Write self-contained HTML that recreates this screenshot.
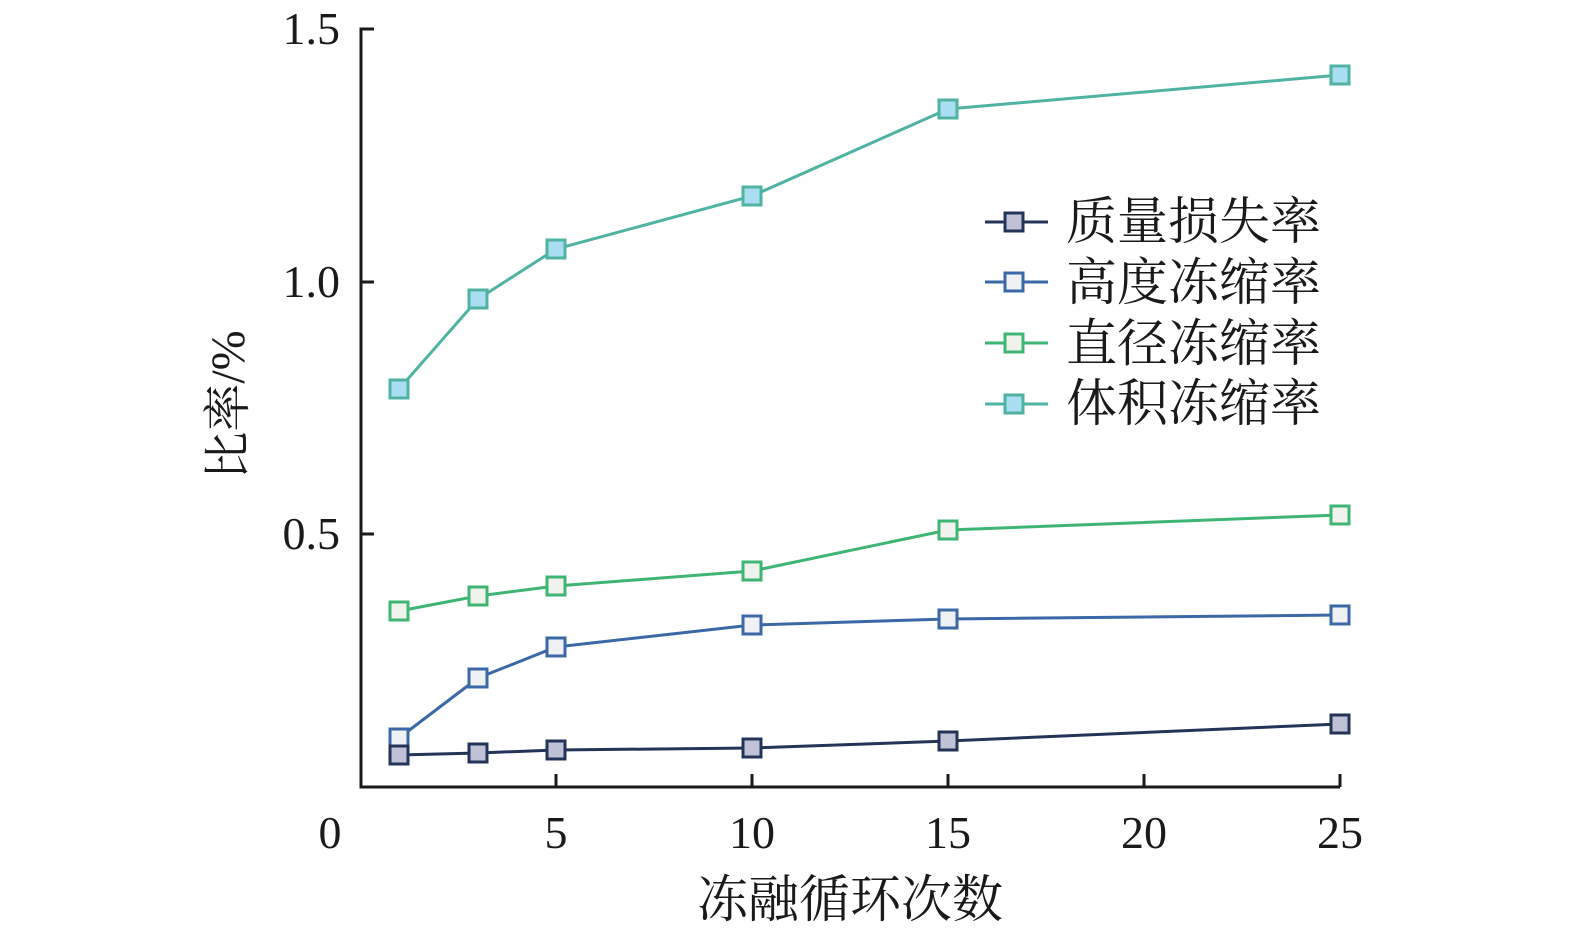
<!DOCTYPE html>
<html><head><meta charset="utf-8"><style>
html,body{margin:0;padding:0;background:#fff;}
svg text{font-family:"Liberation Serif","Noto Serif CJK SC",serif;fill:#1a1a1a;}
</style></head><body>
<svg width="1575" height="928" viewBox="0 0 1575 928" xmlns="http://www.w3.org/2000/svg">
<g stroke="#1a1a1a" stroke-width="3" fill="none">
<path d="M374 29 H361 V787 H1340"/>
<path d="M361 282 H374 M361 534 H374"/>
<path d="M556 787 V774 M752 787 V774 M948 787 V774 M1144 787 V774 M1340 787 V774"/>
</g>
<g font-size="46" text-anchor="end">
<text x="340" y="44">1.5</text>
<text x="340" y="297">1.0</text>
<text x="340" y="549">0.5</text>
</g>
<g font-size="46" text-anchor="middle">
<text x="330" y="848">0</text>
<text x="556" y="848">5</text>
<text x="752" y="848">10</text>
<text x="948" y="848">15</text>
<text x="1144" y="848">20</text>
<text x="1340" y="848">25</text>
</g>
<text x="850" y="917" font-size="51" text-anchor="middle">冻融循环次数</text>
<text transform="translate(244,405) rotate(-90)" font-size="48" text-anchor="middle">比率/%</text>

<polyline fill="none" stroke="#4fb3a2" stroke-width="3" points="399,389 478,299 556,249 752,196 948,109 1340,75"/>
<g fill="#a9def2" stroke="#4fb3a2" stroke-width="3">
<rect x="390" y="380" width="18" height="18"/><rect x="469" y="290" width="18" height="18"/><rect x="547" y="240" width="18" height="18"/><rect x="743" y="187" width="18" height="18"/><rect x="939" y="100" width="18" height="18"/><rect x="1331" y="66" width="18" height="18"/>
</g>
<polyline fill="none" stroke="#3fb574" stroke-width="3" points="399,611 478,596 556,586 752,571 948,530 1340,515"/>
<g fill="#f0f2ee" stroke="#3fb574" stroke-width="3">
<rect x="390" y="602" width="18" height="18"/><rect x="469" y="587" width="18" height="18"/><rect x="547" y="577" width="18" height="18"/><rect x="743" y="562" width="18" height="18"/><rect x="939" y="521" width="18" height="18"/><rect x="1331" y="506" width="18" height="18"/>
</g>
<polyline fill="none" stroke="#3b68a6" stroke-width="3" points="399,738 478,678 556,647 752,625 948,619 1340,615"/>
<g fill="#eff1f4" stroke="#3b68a6" stroke-width="3">
<rect x="390" y="729" width="18" height="18"/><rect x="469" y="669" width="18" height="18"/><rect x="547" y="638" width="18" height="18"/><rect x="743" y="616" width="18" height="18"/><rect x="939" y="610" width="18" height="18"/><rect x="1331" y="606" width="18" height="18"/>
</g>
<polyline fill="none" stroke="#243459" stroke-width="3" points="399,755 478,753 556,750 752,748 948,741 1340,724"/>
<g fill="#c0c0d6" stroke="#243459" stroke-width="3">
<rect x="390" y="746" width="18" height="18"/><rect x="469" y="744" width="18" height="18"/><rect x="547" y="741" width="18" height="18"/><rect x="743" y="739" width="18" height="18"/><rect x="939" y="732" width="18" height="18"/><rect x="1331" y="715" width="18" height="18"/>
</g>

<g stroke-width="3">
<line x1="985" y1="222" x2="1048" y2="222" stroke="#243459"/><rect x="1005" y="213" width="18" height="18" fill="#c0c0d6" stroke="#243459"/>
<line x1="985" y1="282" x2="1048" y2="282" stroke="#3b68a6"/><rect x="1005" y="273" width="18" height="18" fill="#eff1f4" stroke="#3b68a6"/>
<line x1="985" y1="343" x2="1048" y2="343" stroke="#3fb574"/><rect x="1005" y="334" width="18" height="18" fill="#f0f2ee" stroke="#3fb574"/>
<line x1="985" y1="404" x2="1048" y2="404" stroke="#4fb3a2"/><rect x="1005" y="395" width="18" height="18" fill="#a9def2" stroke="#4fb3a2"/>
</g>
<g font-size="51">
<text x="1066" y="239">质量损失率</text>
<text x="1066" y="300">高度冻缩率</text>
<text x="1066" y="361">直径冻缩率</text>
<text x="1066" y="421">体积冻缩率</text>
</g>
</svg>
</body></html>
